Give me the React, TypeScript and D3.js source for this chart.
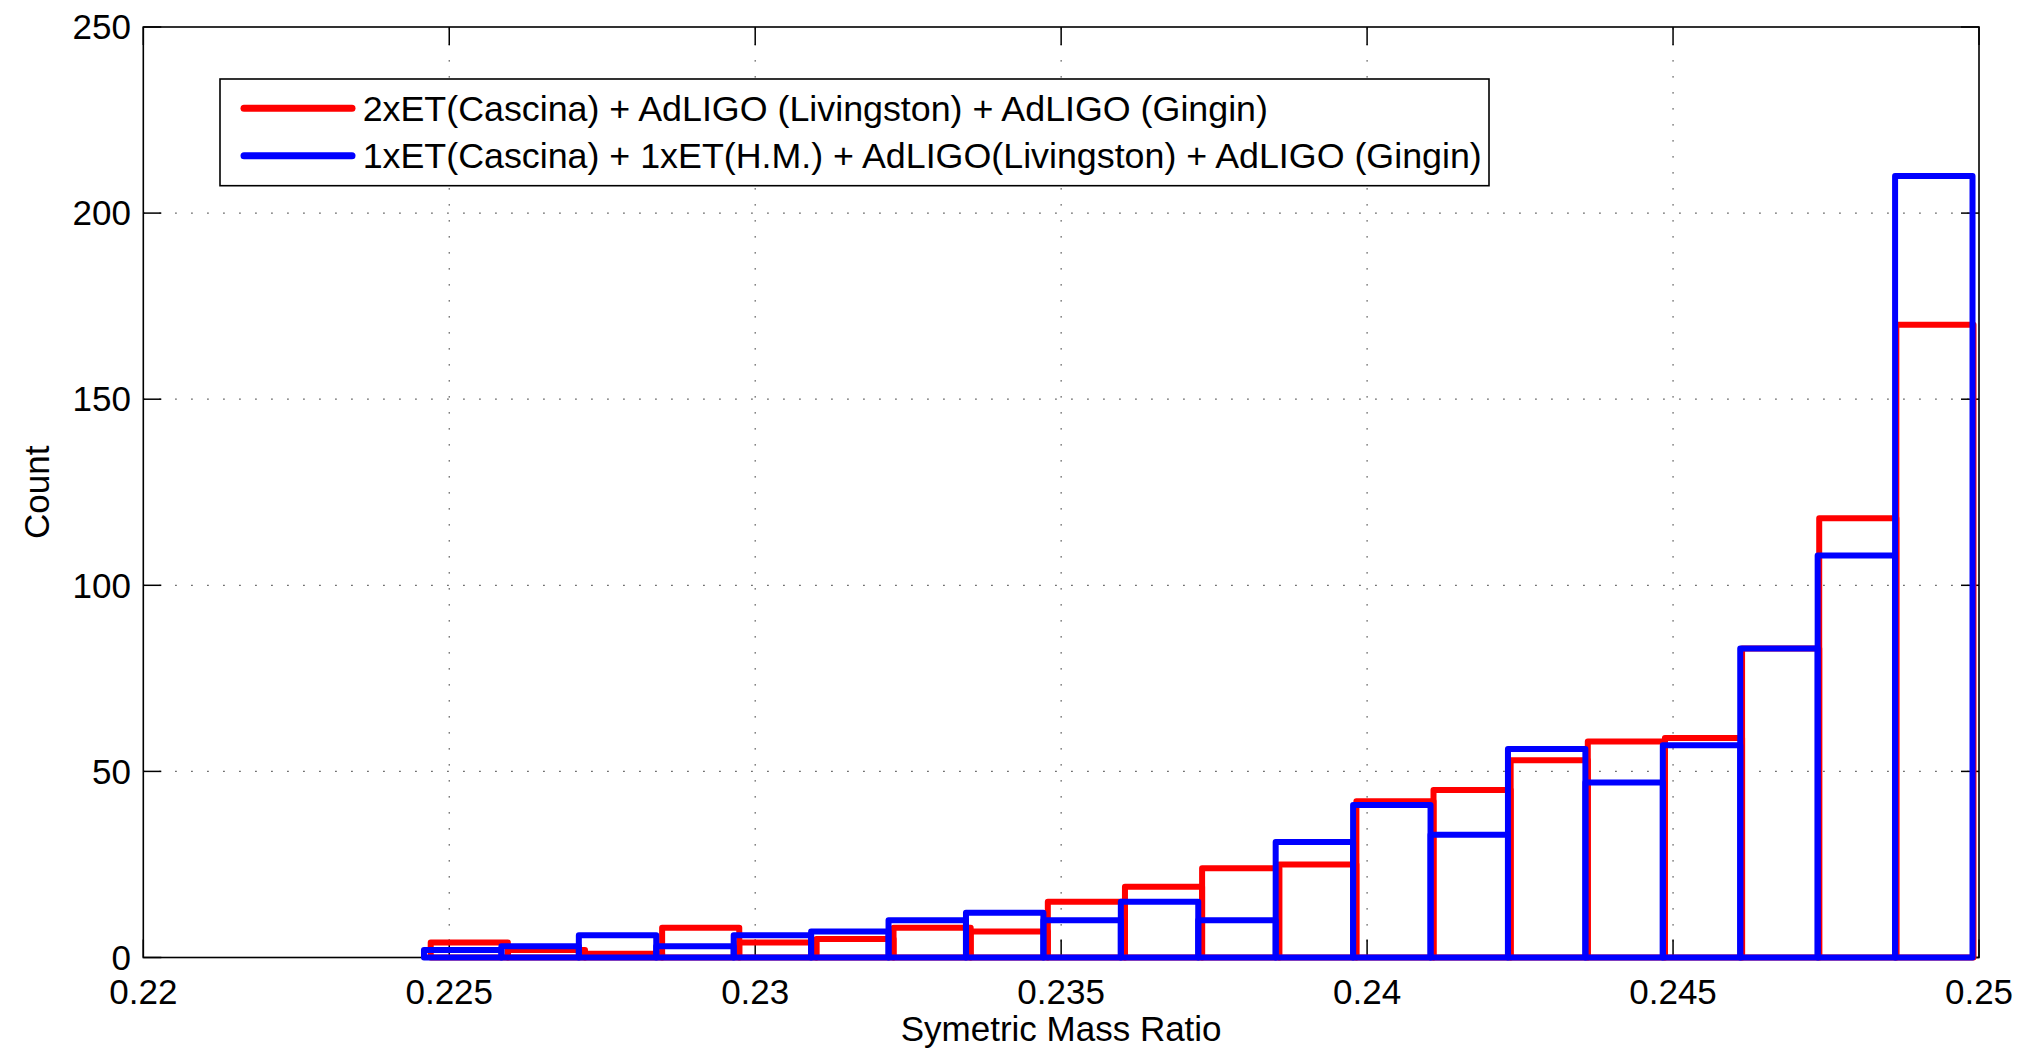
import React from "react";
import * as d3 from "d3";

// Histogram counts per bin (20 equal bins between each series' min and max)
const redCounts = [4, 2, 1, 8, 4, 5, 8, 7, 15, 19, 24, 25, 42, 45, 53, 58, 59, 83, 118, 170];
const blueCounts = [2, 3, 6, 3, 6, 7, 10, 12, 10, 15, 10, 31, 41, 33, 56, 47, 57, 83, 108, 210];
const redRange = [0.224697, 0.24991];
const blueRange = [0.224587, 0.249894];

const xTicks = [0.22, 0.225, 0.23, 0.235, 0.24, 0.245, 0.25];
const xTickLabels = ["0.22", "0.225", "0.23", "0.235", "0.24", "0.245", "0.25"];
const yTicks = [0, 50, 100, 150, 200, 250];

const legendLabels = [
  "2xET(Cascina) + AdLIGO (Livingston) + AdLIGO (Gingin)",
  "1xET(Cascina) + 1xET(H.M.) + AdLIGO(Livingston) + AdLIGO (Gingin)",
];
const seriesColors = ["#ff0000", "#0000ff"];

const W = 2028;
const H = 1052;
const left = 143.3;
const right = 1979;
const top = 27;
const bottom = 957.5;
const FONT = "'Liberation Sans', Arial, Helvetica, sans-serif";

export default function App() {
  const x = d3.scaleLinear().domain([0.22, 0.25]).range([left, right]);
  const y = d3.scaleLinear().domain([0, 250]).range([bottom, top]);

  const barsFor = (counts: number[], range: number[]) => {
    const w = (range[1] - range[0]) / counts.length;
    return counts.map((c, i) => {
      const x0 = x(range[0] + i * w);
      const x1 = x(range[0] + (i + 1) * w);
      const y0 = y(0);
      const y1 = y(c);
      return `M${x0},${y0}L${x0},${y1}L${x1},${y1}L${x1},${y0}Z`;
    });
  };

  const series = [
    { counts: redCounts, range: redRange, color: seriesColors[0] },
    { counts: blueCounts, range: blueRange, color: seriesColors[1] },
  ];

  const tickLen = 18;
  const gridDash = "1.3 14.7";

  return (
    <svg
      width={W}
      height={H}
      style={{ position: "absolute", left: 0, top: 0, background: "#fff" }}
      fontFamily={FONT}
    >
      <rect x={0} y={0} width={W} height={H} fill="#fff" />
      {/* grid */}
      <g stroke="#333" strokeWidth={1.2} strokeDasharray={gridDash}>
        {xTicks.slice(1, -1).map((t) => (
          <line key={"gx" + t} x1={x(t)} x2={x(t)} y1={bottom} y2={top} />
        ))}
        {yTicks.slice(1, -1).map((t) => (
          <line key={"gy" + t} x1={left} x2={right} y1={y(t)} y2={y(t)} />
        ))}
      </g>
      {/* ticks */}
      <g stroke="#000" strokeWidth={1.5}>
        {xTicks.map((t) => (
          <g key={"tx" + t}>
            <line x1={x(t)} x2={x(t)} y1={bottom} y2={bottom - tickLen} />
            <line x1={x(t)} x2={x(t)} y1={top} y2={top + tickLen} />
          </g>
        ))}
        {yTicks.map((t) => (
          <g key={"ty" + t}>
            <line x1={left} x2={left + tickLen} y1={y(t)} y2={y(t)} />
            <line x1={right} x2={right - tickLen} y1={y(t)} y2={y(t)} />
          </g>
        ))}
      </g>
      <rect
        x={left}
        y={top}
        width={right - left}
        height={bottom - top}
        fill="none"
        stroke="#000"
        strokeWidth={1.6}
      />
      {/* histogram outlines */}
      {series.map((s, si) => (
        <g key={"s" + si} fill="none" stroke={s.color} strokeWidth={6} strokeLinejoin="round">
          {barsFor(s.counts, s.range).map((d, i) => (
            <path key={i} d={d} />
          ))}
        </g>
      ))}
      {/* tick labels */}
      <g fontSize={35} fill="#000">
        {xTicks.map((t, i) => (
          <text key={"lx" + t} x={x(t)} y={1004} textAnchor="middle">
            {xTickLabels[i]}
          </text>
        ))}
        {yTicks.map((t) => (
          <text key={"ly" + t} x={131} y={y(t)} dy="0.35em" textAnchor="end">
            {t}
          </text>
        ))}
      </g>
      <text x={(left + right) / 2} y={1041} textAnchor="middle" fontSize={35}>
        Symetric Mass Ratio
      </text>
      <text
        transform={`translate(49,${(top + bottom) / 2}) rotate(-90)`}
        textAnchor="middle"
        fontSize={35}
      >
        Count
      </text>
      {/* legend */}
      <rect x={220} y={79} width={1269} height={106.7} fill="#fff" stroke="#000" strokeWidth={1.6} />
      {legendLabels.map((lab, i) => {
        const ly = 108.3 + i * 47.4;
        return (
          <g key={"lg" + i}>
            <line x1={244} x2={352} y1={ly} y2={ly} stroke={seriesColors[i]} strokeWidth={7} strokeLinecap="round" />
            <text x={362.7} y={ly} dy="0.35em" fontSize={35.8}>
              {lab}
            </text>
          </g>
        );
      })}
    </svg>
  );
}
